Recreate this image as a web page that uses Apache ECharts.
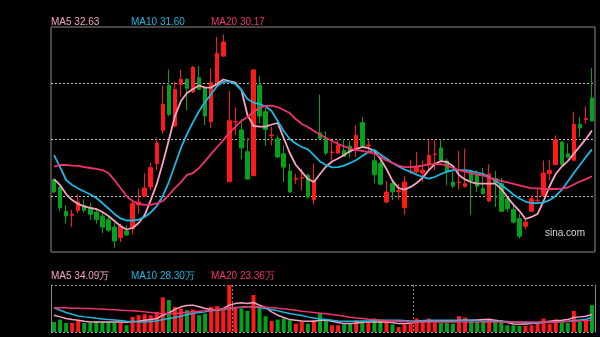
<!DOCTYPE html>
<html><head><meta charset="utf-8">
<script src="https://cdn.jsdelivr.net/npm/echarts@6/dist/echarts.min.js"></script>
<style>html,body{margin:0;padding:0;background:#000;}#c{width:600px;height:337px;}</style>
</head><body><div id="c"></div>
<script>
// ---- data ----
const opens = [29.86,29.47,28.17,27.96,28.22,28.49,28.35,28.13,27.92,27.72,
27.33,26.76,27.12,27.24,28.52,28.97,29.47,30.71,32.49,34.89,
32.72,34.94,35.21,34.53,35.30,34.73,32.95,35.05,36.45,29.75,
32.93,32.51,31.35,30.07,34.90,33.48,32.20,32.04,31.24,30.32,
29.88,29.94,30.09,28.79,32.35,32.08,31.31,31.28,31.42,31.65,
31.51,32.90,31.67,30.87,30.72,28.67,29.65,29.23,28.37,30.27,
30.27,30.21,30.64,31.20,31.55,30.85,29.73,29.70,29.50,30.30,
30.09,29.38,28.72,29.92,29.64,28.84,28.26,27.78,27.37,28.17,
28.73,29.01,30.18,30.66,31.87,31.24,30.89,32.80,33.07,34.21];
const closes = [29.20,28.36,27.92,28.01,28.67,28.22,28.01,27.74,27.33,27.16,
26.59,27.37,26.91,28.58,28.67,29.41,30.50,31.81,33.88,33.34,
34.67,35.21,34.73,35.84,34.68,33.25,35.03,36.60,37.20,33.00,
32.96,31.56,29.89,35.71,33.25,32.53,32.24,31.07,30.53,29.20,
29.93,29.97,28.93,29.82,32.04,31.28,31.34,31.69,31.10,31.33,
32.22,31.64,31.71,30.12,29.62,29.20,29.21,29.27,29.73,30.32,
30.51,30.37,31.15,31.23,30.90,30.27,29.52,29.73,29.64,29.81,
29.50,29.11,30.16,29.71,28.17,28.31,27.60,26.84,27.60,28.84,
28.76,30.21,30.36,31.99,30.67,31.06,32.81,32.61,33.12,32.99];
const lows = [29.16,28.19,27.51,27.33,28.08,28.10,27.72,27.51,27.01,27.07,
26.23,26.53,26.84,26.94,28.04,28.93,29.29,30.36,32.31,33.24,
32.67,34.28,33.57,34.48,34.64,32.77,32.60,34.96,36.40,29.71,
32.24,30.94,29.87,30.05,32.88,31.65,31.69,31.01,29.73,29.17,
29.64,29.29,28.84,28.54,32.00,31.16,30.89,31.23,31.07,31.01,
31.07,31.60,31.24,29.66,29.57,28.58,28.76,28.79,27.99,30.16,
30.18,29.73,30.36,30.36,30.85,29.56,29.41,29.32,29.43,27.99,
29.20,29.07,28.67,28.40,28.13,28.13,27.51,26.71,27.19,28.13,
28.58,28.96,29.82,30.64,30.64,31.01,30.85,32.13,32.84,32.96];
const highs = [29.91,29.50,28.49,28.26,29.08,28.81,28.63,28.35,28.10,27.96,
27.55,27.51,27.42,28.79,29.38,30.21,30.75,32.10,34.89,35.74,
35.08,35.71,35.28,35.92,35.92,34.75,35.80,37.48,37.60,34.60,
33.72,33.08,32.06,35.76,35.39,33.68,32.67,32.22,31.69,30.71,
30.18,30.44,30.18,30.71,34.39,32.45,31.87,31.96,32.04,31.92,
32.76,33.20,31.96,31.51,30.89,29.79,29.82,29.64,30.05,30.89,
31.33,30.89,31.99,31.96,32.00,30.98,30.27,31.39,31.51,30.39,
30.36,30.48,30.67,30.32,29.95,28.85,28.49,28.04,27.78,29.02,
29.34,30.88,30.89,32.22,31.89,31.80,33.49,33.20,33.77,35.81];
const ma5 = [29.89,29.57,29.09,28.77,28.56,28.43,28.35,28.29,28.13,27.92,
27.65,27.39,27.20,27.28,27.55,27.97,28.77,29.63,30.75,31.97,
33.25,34.05,34.48,34.69,34.88,34.77,34.77,34.96,35.20,35.12,
35.04,34.64,33.31,32.72,32.69,32.69,32.80,32.88,32.08,31.28,
30.64,30.27,29.89,29.73,30.16,30.56,30.83,30.99,31.17,31.39,
31.49,31.60,31.55,31.39,30.96,30.43,29.79,29.41,29.33,29.47,
29.68,29.97,30.37,30.69,30.85,30.80,30.59,30.11,29.87,29.73,
29.65,29.65,29.65,29.65,29.36,28.93,28.53,28.19,27.76,27.87,
28.03,28.72,29.52,30.16,30.56,30.85,31.25,31.63,32.03,32.48];
const ma10 = [31.17,30.53,29.84,29.57,29.39,29.23,29.07,28.88,28.61,28.32,
28.03,27.79,27.68,27.68,27.73,27.87,28.11,28.45,28.99,29.73,
30.64,31.55,32.29,32.93,33.52,34.00,34.43,34.85,35.09,35.09,
34.96,34.64,34.16,33.97,33.89,33.76,33.52,32.99,32.45,32.03,
31.79,31.60,31.47,31.17,30.83,30.64,30.51,30.53,30.61,30.75,
30.91,31.12,31.33,31.44,31.20,30.99,30.75,30.56,30.40,30.27,
30.13,30.00,29.91,30.00,30.16,30.29,30.36,30.37,30.37,30.32,
30.24,30.16,30.00,29.81,29.57,29.33,29.07,28.85,28.69,28.61,
28.61,28.64,28.77,28.99,29.31,29.76,30.21,30.64,31.07,31.47];
const ma20 = [30.55,30.64,30.64,30.61,30.59,30.53,30.48,30.43,30.37,30.21,
29.84,29.41,28.99,28.72,28.56,28.51,28.51,28.59,28.72,29.04,
29.41,29.73,30.11,30.21,30.48,30.85,31.23,31.60,31.97,32.35,
32.67,32.99,33.20,33.47,33.68,33.79,33.81,33.73,33.57,33.41,
33.09,32.83,32.67,32.45,32.27,32.08,31.92,31.76,31.63,31.52,
31.44,31.39,31.33,31.25,31.07,30.88,30.75,30.61,30.53,30.53,
30.56,30.61,30.67,30.69,30.69,30.61,30.48,30.37,30.29,30.21,
30.13,30.08,29.97,29.87,29.79,29.71,29.63,29.55,29.47,29.41,
29.39,29.36,29.36,29.36,29.38,29.44,29.60,29.76,29.89,30.04];
// volume in 万
const volumes = [19.7,24.3,17.7,17.7,23.0,17.7,17.7,21.0,19.7,19.7,
17.7,17.7,13.1,29.6,32.9,34.8,32.9,39.4,67.7,62.4,
49.3,46.0,42.7,44.0,32.9,36.1,49.3,50.6,42.7,92.0,
49.3,46.0,41.4,72.3,48.0,30.9,21.7,24.3,26.3,23.0,
16.4,19.7,16.4,23.0,37.4,23.0,13.1,13.1,15.1,16.4,
23.0,17.7,19.7,26.3,21.7,19.7,15.1,9.9,15.1,16.4,
26.3,19.7,26.3,19.7,17.7,17.7,16.4,30.9,28.3,23.0,
19.7,19.7,26.3,21.0,23.0,13.1,13.1,11.8,11.8,13.1,
16.4,26.3,16.4,24.3,17.7,17.7,41.4,19.7,23.0,52.6];
const volMa5 = [32.9,29.6,26.3,24.3,23.0,21.0,19.7,19.7,19.7,19.7,
19.7,19.7,19.1,20.4,21.0,23.0,24.3,26.3,32.9,37.4,
44.0,49.3,51.9,52.6,49.3,46.0,44.0,42.7,46.0,52.6,
55.8,57.2,55.8,57.8,52.6,48.0,39.4,32.9,28.3,24.3,
23.0,21.7,21.0,21.0,23.0,23.0,21.0,18.4,16.4,16.4,
17.7,19.1,19.7,19.7,19.7,19.7,18.4,16.4,16.4,17.7,
19.1,20.4,21.0,21.0,21.0,21.0,21.0,22.3,23.0,23.0,
23.7,24.3,24.3,23.0,21.0,18.4,15.8,15.1,15.8,16.4,
17.7,19.7,21.0,22.3,23.0,24.3,28.3,29.6,30.9,34.2];
const volMa10 = [47.3,42.7,38.1,34.8,31.5,29.6,28.3,26.9,25.6,24.3,
23.7,22.3,21.0,20.4,19.7,19.7,20.4,21.7,24.3,26.3,
28.3,30.9,34.2,36.1,38.1,39.4,41.4,42.7,44.0,46.0,
47.3,48.6,49.3,49.3,48.0,46.0,44.0,41.4,38.8,36.1,
34.2,32.2,29.6,27.6,25.6,24.3,23.0,21.7,21.0,21.0,
21.0,21.7,21.7,22.3,23.0,23.0,23.0,23.0,22.3,21.7,
21.7,22.3,23.0,23.0,23.0,23.0,23.0,23.0,23.0,23.0,
22.3,21.7,21.0,21.0,21.0,20.4,19.7,19.1,18.4,17.7,
17.7,18.4,19.1,19.7,20.4,21.0,22.3,23.7,25.0,28.3];
const volMa20 = [47.3,47.3,47.3,46.6,46.6,46.0,46.0,45.3,44.7,44.0,
43.4,42.7,42.0,41.4,40.7,39.4,38.1,36.8,36.1,36.1,
36.1,37.4,38.8,39.4,40.7,41.4,42.7,44.0,45.3,46.6,
48.0,48.6,49.3,49.9,49.3,48.6,48.0,46.6,45.3,44.0,
42.7,40.7,39.4,38.1,36.8,35.5,34.2,32.9,30.9,28.9,
27.6,26.3,25.0,24.3,23.0,22.3,21.7,21.0,20.4,19.7,
19.7,19.7,19.7,19.7,19.7,19.7,19.7,19.7,19.7,19.7,
19.7,19.7,19.7,19.7,19.7,19.7,19.7,19.7,19.7,19.7,
19.7,19.7,19.7,19.7,19.7,20.4,21.0,21.7,22.3,23.0];
const priceLegend = ['MA5 32.63', 'MA10 31.60', 'MA20 30.17'];
const volLegend = ['MA5 34.09万', 'MA10 28.30万', 'MA20 23.36万'];
const monthBreaks = [30, 60];
const categories = opens.map((_, i) => String(i + 1));

// ---- styles ----
const UP = '#ff1a1a', DOWN = '#00a31a';
const C5 = '#f8a3c1', C10 = '#1cb8df', C20 = '#f0336e';
const candle = opens.map((o, i) => [o, closes[i], lows[i], highs[i]]);
const volData = volumes.map((v, i) => ({
  value: v, itemStyle: { color: closes[i] >= opens[i] ? UP : DOWN }
}));

const chart = echarts.init(document.getElementById('c'), null, { renderer: 'canvas' });
const line = (name, data, color, xi, yi, w) => ({
  name, type: 'line', data, xAxisIndex: xi, yAxisIndex: yi, symbol: 'none',
  lineStyle: { color, width: w }, silent: true, animation: false, z: 5
});
const legendText = (arr, y) => arr.map((t, k) => ({
  type: 'text', left: 51 + k * 80, top: y,
  style: { text: t, fill: [C5, C10, C20][k], font: '10px "Liberation Sans", Arial, sans-serif' }
}));

chart.setOption({
  backgroundColor: '#000',
  animation: false,
  grid: [
    { left: 51, top: 27, width: 544, height: 225, show: true, borderColor: '#8c8c8c', borderWidth: 1 },
    { left: 51, top: 285, width: 544, height: 47 }
  ],
  xAxis: [
    { type: 'category', gridIndex: 0, data: categories, boundaryGap: true,
      axisLine: { show: false }, axisTick: { show: false }, axisLabel: { show: false }, splitLine: { show: false } },
    { type: 'category', gridIndex: 1, data: categories, boundaryGap: true,
      axisLine: { show: false }, axisTick: { show: false }, axisLabel: { show: false },
      splitLine: { show: true, interval: (idx) => monthBreaks.includes(idx),
        lineStyle: { color: '#8a8a8a', type: [2, 2], width: 1 } } }
  ],
  yAxis: [
    { type: 'value', gridIndex: 0, min: 26, max: 38, interval: 3, scale: true,
      axisLine: { show: false }, axisTick: { show: false }, axisLabel: { show: false },
      splitLine: { show: true, showMinLine: false, showMaxLine: false,
        lineStyle: { color: '#c8c8c8', type: [2, 2], width: 1 } } },
    { type: 'value', gridIndex: 1, min: 0, max: 92, interval: 92,
      axisLine: { show: true, lineStyle: { color: '#8c8c8c' } }, axisTick: { show: false }, axisLabel: { show: false },
      splitLine: { show: true, lineStyle: { color: '#a8a8a8', type: [2, 2], width: 1 } } },
    { type: 'value', gridIndex: 1, min: 0, max: 92, position: 'right',
      axisLine: { show: true, lineStyle: { color: '#8c8c8c' } }, axisTick: { show: false }, axisLabel: { show: false },
      splitLine: { show: false } }
  ],
  series: [
    { type: 'candlestick', xAxisIndex: 0, yAxisIndex: 0, data: candle, barWidth: 4,
      itemStyle: { color: UP, color0: DOWN, borderColor: UP, borderColor0: DOWN, borderWidth: 1 } },
    line('MA5', ma5, C5, 0, 0, 1.8),
    line('MA10', ma10, C10, 0, 0, 1.8),
    line('MA20', ma20, C20, 0, 0, 1.8),
    { type: 'bar', xAxisIndex: 1, yAxisIndex: 1, data: volData, barWidth: 4 },
    line('VMA5', volMa5, C5, 1, 1, 1.5),
    line('VMA10', volMa10, C10, 1, 1, 1.5),
    line('VMA20', volMa20, C20, 1, 1, 1.5)
  ],
  graphic: [
    ...legendText(priceLegend, 17),
    ...legendText(volLegend, 271),
    { type: 'text', left: 545, top: 228,
      style: { text: 'sina.com', fill: '#d8d8d8', font: '10px "Liberation Sans", Arial, sans-serif' } }
  ]
});
</script></body></html>
